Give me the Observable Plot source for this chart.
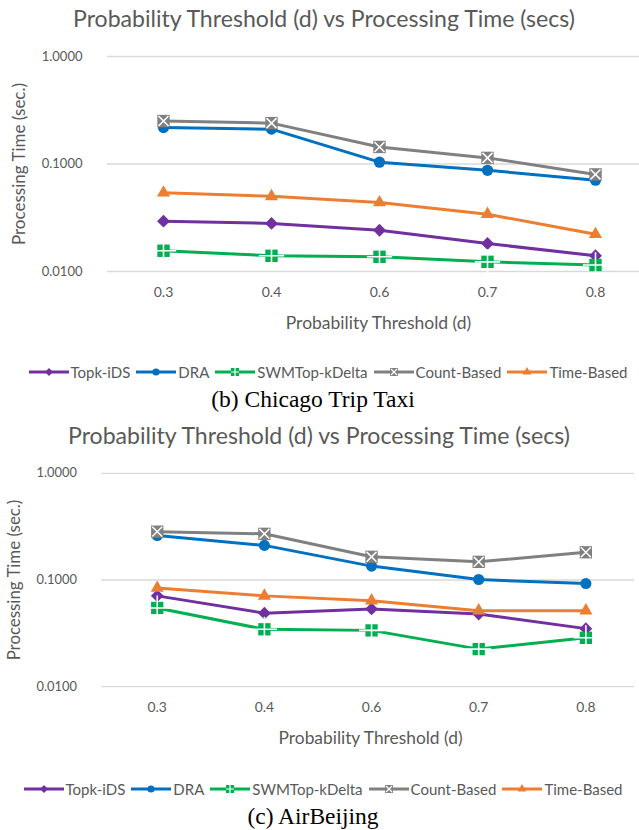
<!DOCTYPE html>
<html><head><meta charset="utf-8">
<script src="https://cdn.jsdelivr.net/npm/d3@7"></script>
<script src="https://cdn.jsdelivr.net/npm/@observablehq/plot@0.6"></script>
<style>
body{margin:0;background:#fff;}
#root{position:relative;width:639px;height:830px;overflow:hidden;font-family:Lato,sans-serif;}
.legend{position:absolute;width:639px;height:18px;display:flex;align-items:center;justify-content:center;gap:6px;font-family:Lato,sans-serif;font-size:15px;color:#595959;white-space:nowrap;}
.legend .item{display:flex;align-items:center;}
.legend svg{display:block;margin-right:2px;}
.caption{position:absolute;width:639px;text-align:center;font-family:"Liberation Serif","Times New Roman",serif;font-size:23.5px;line-height:28px;color:#000;}
</style>
</head><body><div id="root"></div>
<script>
// ---- data ----
const thresholds = ["0.3", "0.4", "0.6", "0.7", "0.8"];
const seriesNames = ["Topk-iDS", "DRA", "SWMTop-kDelta", "Count-Based", "Time-Based"];
const seriesColors = ["#7030A0", "#0070C0", "#00B050", "#808080", "#ED7D31"];
const yTicks = [1, 0.1, 0.01];
const chartTitle = "Probability Threshold (d) vs Processing Time (secs)";
const xLabel = "Probability Threshold (d)";
const yLabel = "Processing Time (sec.)";

// (b) Chicago Trip Taxi
const taxiTopk  = [0.0294, 0.0280, 0.0242, 0.0182, 0.0140];
const taxiDRA   = [0.218, 0.211, 0.104, 0.0874, 0.0706];
const taxiSWM   = [0.0156, 0.0140, 0.0137, 0.0123, 0.0115];
const taxiCount = [0.251, 0.240, 0.144, 0.114, 0.080];
const taxiTime  = [0.054, 0.050, 0.0438, 0.0341, 0.0222];

// (c) AirBeijing
const airTopk  = [0.071, 0.0489, 0.0535, 0.048, 0.035];
const airDRA   = [0.261, 0.211, 0.135, 0.101, 0.0926];
const airSWM   = [0.0547, 0.0345, 0.0337, 0.0225, 0.0287];
const airCount = [0.284, 0.271, 0.165, 0.148, 0.182];
const airTime  = [0.084, 0.071, 0.064, 0.0516, 0.0516];

const root = d3.select("#root");
const colorOf = s => seriesColors[seriesNames.indexOf(s)];

function legendSwatch(svg, s) {
  const c = colorOf(s);
  svg.append("line").attr("x1", 0).attr("x2", 40).attr("y1", 7).attr("y2", 7)
    .attr("stroke", c).attr("stroke-width", 3);
  const g = svg.append("g").attr("transform", "translate(20,7)");
  if (s === "Topk-iDS") g.append("path").attr("d", d3.symbol(d3.symbolDiamond2, 40)()).attr("fill", c);
  if (s === "DRA") g.append("circle").attr("r", 3.6).attr("fill", c);
  if (s === "SWMTop-kDelta") {
    g.append("rect").attr("x", -4).attr("y", -4).attr("width", 8).attr("height", 8).attr("fill", c);
    g.append("path").attr("d", "M-4,0H4M0,-4V4").attr("stroke", "#fff").attr("stroke-width", 1.2);
  }
  if (s === "Count-Based") {
    g.append("rect").attr("x", -4).attr("y", -4).attr("width", 8).attr("height", 8).attr("fill", c);
    g.append("path").attr("d", "M-3,-3L3,3M-3,3L3,-3").attr("stroke", "#fff").attr("stroke-width", 1.2);
  }
  if (s === "Time-Based") g.append("path").attr("d", d3.symbol(d3.symbolTriangle, 34)()).attr("fill", c);
}

function panel({oy, ox, titleY, captionText, values}) {
  const rows = [];
  seriesNames.forEach((s, i) => values[i].forEach((v, j) => rows.push({s, t: thresholds[j], v})));
  const of = s => rows.filter(d => d.s === s);

  // title
  const tsvg = root.append("svg").attr("width", 639).attr("height", 40)
    .style("position", "absolute").style("left", "0px").style("top", oy + "px");
  tsvg.append("text").attr("x", 324 + ox).attr("y", titleY).attr("text-anchor", "middle")
    .attr("font-family", "Lato").attr("font-size", 22.5).attr("fill", "#595959")
    .attr("textLength", 502).attr("lengthAdjust", "spacingAndGlyphs").text(chartTitle);

  const W = 639 - ox;
  const chart = Plot.plot({
    width: W, height: 304,
    marginLeft: 107, marginRight: 0, marginTop: 20, marginBottom: 69,
    style: {fontFamily: "Lato, sans-serif", color: "#595959", background: "transparent", overflow: "visible"},
    x: {type: "point", domain: thresholds, range: [161, 596], padding: 0},
    y: {type: "log", domain: [0.01, 1]},
    color: {domain: seriesNames, range: seriesColors},
    marks: [
      Plot.gridY(yTicks, {stroke: "#d9d9d9", strokeOpacity: 1, strokeWidth: 1.3}),
      Plot.axisY(yTicks, {tickSize: 0, tickPadding: 25, tickFormat: d3.format(".4f"), fontSize: 13, label: null}),
      Plot.axisX({tickSize: 0, tickPadding: 16, fontSize: 14, label: null}),
      Plot.text([yLabel], {frameAnchor: "left", rotate: -90, dx: -88, textAnchor: "middle", fontSize: 17, fill: "#595959"}),
      Plot.text([xLabel], {frameAnchor: "bottom", dy: 52, dx: 378 - (107 + W) / 2, textAnchor: "middle", fontSize: 17.5, fill: "#595959", lineAnchor: "middle"}),
      Plot.line(rows, {x: "t", y: "v", z: "s", stroke: "s", strokeWidth: 3, strokeLinejoin: "round", strokeLinecap: "round"}),
      Plot.dot(of("Topk-iDS"), {x: "t", y: "v", symbol: "diamond2", r: 5.8, fill: "s"}),
      Plot.dot(of("DRA"), {x: "t", y: "v", symbol: "circle", r: 5.6, fill: "s"}),
      Plot.dot(of("SWMTop-kDelta"), {x: "t", y: "v", symbol: "square", r: 7, fill: "s"}),
      Plot.dot(of("SWMTop-kDelta"), {x: "t", y: "v", symbol: "plus", r: 8.2, stroke: "white", strokeWidth: 1.6}),
      Plot.dot(of("Count-Based"), {x: "t", y: "v", symbol: "square", r: 7, fill: "s"}),
      Plot.dot(of("Count-Based"), {x: "t", y: "v", symbol: "times", r: 4.6, stroke: "white", strokeWidth: 1.5}),
      Plot.dot(of("Time-Based"), {x: "t", y: "v", symbol: "triangle", r: 4.9, fill: "s"})
    ]
  });
  chart.style.position = "absolute";
  chart.style.left = ox + "px";
  chart.style.top = (oy + 36) + "px";
  root.node().appendChild(chart);

  // legend
  const lg = root.append("div").attr("class", "legend")
    .style("left", (8.5 + ox) + "px").style("top", (oy + 363) + "px");
  seriesNames.forEach(s => {
    const it = lg.append("div").attr("class", "item");
    legendSwatch(it.append("svg").attr("width", 40).attr("height", 14), s);
    it.append("span").text(s);
  });

  // caption
  root.append("div").attr("class", "caption")
    .style("left", "-6.5px").style("top", (oy + 385) + "px").text(captionText);
}

panel({oy: 0, ox: 0, titleY: 26.5, captionText: "(b) Chicago Trip Taxi",
  values: [taxiTopk, taxiDRA, taxiSWM, taxiCount, taxiTime]});
panel({oy: 417, ox: -5, titleY: 26.5, captionText: "(c) AirBeijing",
  values: [airTopk, airDRA, airSWM, airCount, airTime]});
</script>
</body></html>
